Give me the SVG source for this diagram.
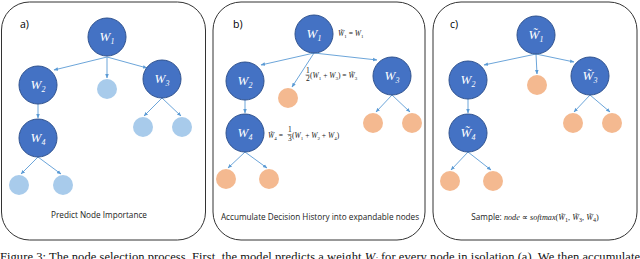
<svg xmlns="http://www.w3.org/2000/svg" width="640" height="259" viewBox="0 0 640 259">
<defs>
<marker id="ah" viewBox="0 0 10 10" refX="9" refY="5" markerWidth="5" markerHeight="5" orient="auto">
<path d="M0,1 L10,5 L0,9 z" fill="#5B9BD5"/>
</marker>
<style>
.panel{fill:#fff;stroke:#333;stroke-width:1}
.big{fill:#4472C4;stroke:#2F528F;stroke-width:1}
.lb{fill:#A8CBEB}
.or{fill:#F4B990}
.edge{stroke:#5B9BD5;stroke-width:0.9;fill:none;marker-end:url(#ah)}
.wl{font-family:"Liberation Serif",serif;font-style:italic;font-size:13px;fill:#fff;text-anchor:middle}
.sub{font-size:8px}
.pl{font-family:"Open Sans","Liberation Sans",sans-serif;font-size:10.5px;fill:#000}
.cap{font-family:"Open Sans","Liberation Sans",sans-serif;font-size:8.2px;fill:#222;text-anchor:middle}
.fm{font-family:"Liberation Serif",serif;font-size:7.5px;fill:#222}
.it{font-style:italic}
.fig{font-family:"Liberation Serif",serif;font-size:12.5px;fill:#111}
</style>
</defs>
<rect class="panel" x="1.5" y="2" width="204" height="238" rx="28"/>
<rect class="panel" x="213" y="2" width="212" height="238" rx="28"/>
<rect class="panel" x="433" y="2" width="204" height="238" rx="28"/>
<text class="pl" x="20" y="28">a)</text>
<text class="pl" x="233" y="28">b)</text>
<text class="pl" x="450" y="28">c)</text>
<g id="connectors">
<line class="edge" x1="107" y1="57" x2="54" y2="70"/>
<line class="edge" x1="107" y1="57" x2="107" y2="78"/>
<line class="edge" x1="107" y1="57" x2="147" y2="68"/>
<line class="edge" x1="38" y1="104" x2="38" y2="118"/>
<line class="edge" x1="162" y1="98" x2="144" y2="116"/>
<line class="edge" x1="162" y1="98" x2="181" y2="116"/>
<line class="edge" x1="38" y1="157" x2="21" y2="174"/>
<line class="edge" x1="38" y1="157" x2="61" y2="174"/>
<line class="edge" x1="314" y1="53" x2="261" y2="65"/>
<line class="edge" x1="314" y1="53" x2="292" y2="87"/>
<line class="edge" x1="314" y1="53" x2="377" y2="60"/>
<line class="edge" x1="245" y1="100" x2="245" y2="113"/>
<line class="edge" x1="392" y1="95" x2="376" y2="112"/>
<line class="edge" x1="392" y1="95" x2="410" y2="112"/>
<line class="edge" x1="245" y1="152" x2="228" y2="168"/>
<line class="edge" x1="245" y1="152" x2="267" y2="168"/>
<line class="edge" x1="536" y1="54" x2="484" y2="65"/>
<line class="edge" x1="536" y1="54" x2="537" y2="74"/>
<line class="edge" x1="536" y1="54" x2="574" y2="62"/>
<line class="edge" x1="468" y1="99" x2="468" y2="113"/>
<line class="edge" x1="590" y1="95" x2="574" y2="112"/>
<line class="edge" x1="590" y1="95" x2="610" y2="112"/>
<line class="edge" x1="468" y1="152" x2="451" y2="170"/>
<line class="edge" x1="468" y1="152" x2="491" y2="170"/>
</g>
<!-- Panel a -->
<g id="a-w1"><circle class="big" cx="107" cy="37" r="19"/><text class="wl" x="107" y="41">W<tspan class="sub" dy="3">1</tspan></text></g>
<g id="a-w2"><circle class="big" cx="38" cy="85" r="19"/><text class="wl" x="38" y="89">W<tspan class="sub" dy="3">2</tspan></text></g>
<g id="a-w3"><circle class="big" cx="162" cy="79" r="19"/><text class="wl" x="162" y="83">W<tspan class="sub" dy="3">3</tspan></text></g>
<g id="a-w4"><circle class="big" cx="38" cy="138" r="19"/><text class="wl" x="38" y="142">W<tspan class="sub" dy="3">4</tspan></text></g>
<g id="a-l1"><circle class="lb" cx="107" cy="89" r="10"/></g>
<g id="a-l2"><circle class="lb" cx="143" cy="127" r="10"/></g>
<g id="a-l3"><circle class="lb" cx="182" cy="127" r="10"/></g>
<g id="a-l4"><circle class="lb" cx="19" cy="185" r="10"/></g>
<g id="a-l5"><circle class="lb" cx="63" cy="185" r="10"/></g>
<text class="cap" x="99" y="218">Predict Node Importance</text>
<!-- Panel b -->
<g id="b-w1"><circle class="big" cx="314" cy="34" r="19"/><text class="wl" x="314" y="38">W<tspan class="sub" dy="3">1</tspan></text></g>
<g id="b-w2"><circle class="big" cx="245" cy="81" r="19"/><text class="wl" x="245" y="85">W<tspan class="sub" dy="3">2</tspan></text></g>
<g id="b-w3"><circle class="big" cx="392" cy="76" r="19"/><text class="wl" x="392" y="80">W<tspan class="sub" dy="3">3</tspan></text></g>
<g id="b-w4"><circle class="big" cx="245" cy="133" r="19"/><text class="wl" x="245" y="137">W<tspan class="sub" dy="3">4</tspan></text></g>
<g id="b-o1"><circle class="or" cx="288" cy="98" r="10"/></g>
<g id="b-o2"><circle class="or" cx="373" cy="123" r="10"/></g>
<g id="b-o3"><circle class="or" cx="412" cy="123" r="10"/></g>
<g id="b-o4"><circle class="or" cx="226" cy="179" r="10"/></g>
<g id="b-o5"><circle class="or" cx="269" cy="179" r="10"/></g>
<text class="fm" x="338" y="36"><tspan class="it">W̃</tspan><tspan font-size="5" dy="1.5">1</tspan><tspan dy="-1.5"> = </tspan><tspan class="it">W</tspan><tspan font-size="5" dy="1.5">1</tspan></text>
<g id="b-f3">
<text class="fm" x="306" y="73" font-size="6">1</text>
<line x1="305.5" y1="75" x2="309.5" y2="75" stroke="#222" stroke-width="0.5"/>
<text class="fm" x="306" y="81" font-size="6">2</text>
<text class="fm" x="310" y="78">(<tspan class="it">W</tspan><tspan font-size="5" dy="1.5">1</tspan><tspan dy="-1.5"> + </tspan><tspan class="it">W</tspan><tspan font-size="5" dy="1.5">3</tspan><tspan dy="-1.5">) = </tspan><tspan class="it">W̃</tspan><tspan font-size="5" dy="1.5">3</tspan></text>
</g>
<g id="b-f4">
<text class="fm" x="268" y="138"><tspan class="it">W̃</tspan><tspan font-size="5" dy="1.5">4</tspan><tspan dy="-1.5"> = </tspan></text>
<text class="fm" x="288" y="132" font-size="6">1</text>
<line x1="287.5" y1="134.5" x2="291.5" y2="134.5" stroke="#222" stroke-width="0.5"/>
<text class="fm" x="288" y="141" font-size="6">3</text>
<text class="fm" x="292" y="138">(<tspan class="it">W</tspan><tspan font-size="5" dy="1.5">1</tspan><tspan dy="-1.5"> + </tspan><tspan class="it">W</tspan><tspan font-size="5" dy="1.5">2</tspan><tspan dy="-1.5"> + </tspan><tspan class="it">W</tspan><tspan font-size="5" dy="1.5">4</tspan><tspan dy="-1.5">)</tspan></text>
</g>
<text class="cap" x="320" y="220">Accumulate Decision History into expandable nodes</text>
<!-- Panel c -->
<g id="c-w1"><circle class="big" cx="536" cy="35" r="19"/><text class="wl" x="536" y="39">W̃<tspan class="sub" dy="3">1</tspan></text></g>
<g id="c-w2"><circle class="big" cx="468" cy="80" r="19"/><text class="wl" x="468" y="84">W<tspan class="sub" dy="3">2</tspan></text></g>
<g id="c-w3"><circle class="big" cx="590" cy="76" r="19"/><text class="wl" x="590" y="80">W̃<tspan class="sub" dy="3">3</tspan></text></g>
<g id="c-w4"><circle class="big" cx="468" cy="133" r="19"/><text class="wl" x="468" y="137">W̃<tspan class="sub" dy="3">4</tspan></text></g>
<g id="c-o1"><circle class="or" cx="537" cy="85" r="10"/></g>
<g id="c-o2"><circle class="or" cx="573" cy="123" r="10"/></g>
<g id="c-o3"><circle class="or" cx="612" cy="123" r="10"/></g>
<g id="c-o4"><circle class="or" cx="450" cy="181" r="10"/></g>
<g id="c-o5"><circle class="or" cx="493" cy="181" r="10"/></g>
<text class="cap" x="535" y="220">Sample: <tspan font-family="Liberation Serif,serif" font-style="italic">node</tspan> ∝ <tspan font-family="Liberation Serif,serif" font-style="italic">softmax</tspan><tspan font-family="Liberation Serif,serif">(<tspan font-style="italic">W̃</tspan><tspan font-size="6" dy="1.5">1</tspan><tspan dy="-1.5">, </tspan><tspan font-style="italic">W̃</tspan><tspan font-size="6" dy="1.5">3</tspan><tspan dy="-1.5">, </tspan><tspan font-style="italic">W̃</tspan><tspan font-size="6" dy="1.5">4</tspan><tspan dy="-1.5">)</tspan></tspan></text>
<text class="fig" x="0" y="261" textLength="640" lengthAdjust="spacing">Figure 3: The node selection process. First, the model predicts a weight <tspan font-style="italic">W<tspan font-size="9" dy="2">i</tspan></tspan><tspan dy="-2"> for every node in isolation (a). We then accumulate</tspan></text>
</svg>
